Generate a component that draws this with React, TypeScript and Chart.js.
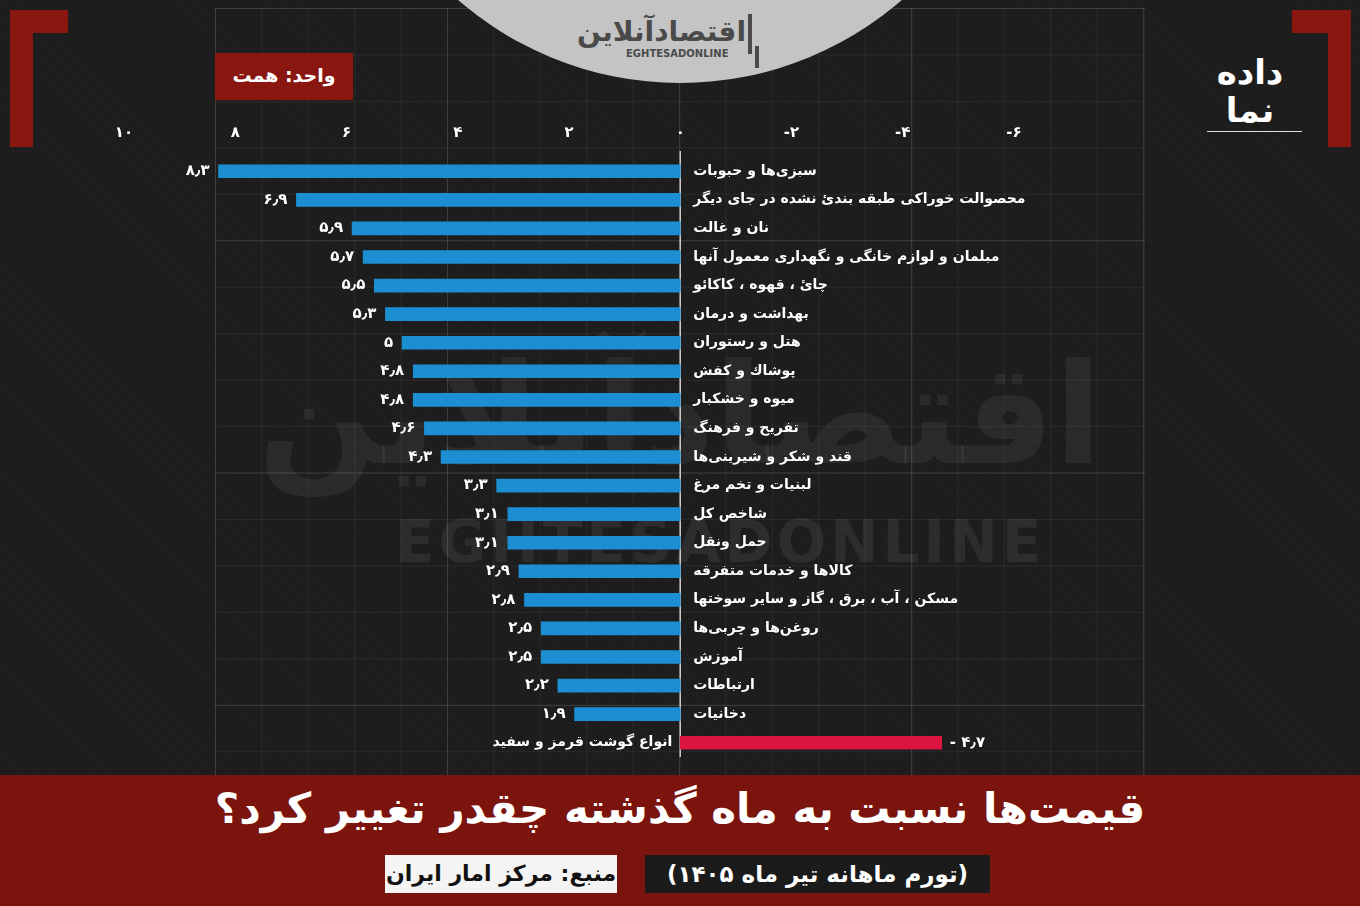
import React, { useEffect, useRef } from "react";
import { Chart, registerables } from "chart.js";

Chart.register(...registerables);

// ---------- DATA ----------
const categories: string[] = [
  "سبزی‌ها و حبوبات",
  "محصوالت خوراکی طبقه بندیٔ نشده در جای دیگر",
  "نان و غالت",
  "مبلمان و لوازم خانگی و نگهداری معمول آنها",
  "چایٔ ، قهوه ، کاکائو",
  "بهداشت و درمان",
  "هتل و رستوران",
  "پوشاك و كفش",
  "میوه و خشکبار",
  "تفریح و فرهنگ",
  "قند و شکر و شیرینی‌ها",
  "لبنیات و تخم مرغ",
  "شاخص کل",
  "حمل ونقل",
  "کالاها و خدمات متفرقه",
  "مسکن ، آب ، برق ، گاز و سایر سوختها",
  "روغن‌ها و چربی‌ها",
  "آموزش",
  "ارتباطات",
  "دخانیات",
  "انواع گوشت قرمز و سفید",
];

const values: number[] = [
  8.3, 6.9, 5.9, 5.7, 5.5, 5.3, 5, 4.8, 4.8, 4.6, 4.3, 3.3, 3.1, 3.1, 2.9, 2.8,
  2.5, 2.5, 2.2, 1.9, -4.7,
];

const xMin = -6;
const xMax = 10;
const xStep = 2;

const unitLabel = "واحد: همت";
const titleText = "قیمت‌ها نسبت به ماه گذشته چقدر تغییر کرد؟";
const subtitleText = "(تورم ماهانه تیر ماه ۱۴۰۵)";
const sourceText = "منبع: مرکز امار ایران";

// ---------- STYLE ----------
const POS_COLOR = "#1b8fd2";
const NEG_COLOR = "#dc1440";
const RED = "#8a170f";
const FONT = "'DejaVu Sans', sans-serif";

const faDigits = "۰۱۲۳۴۵۶۷۸۹";
const toFa = (n: number): string => {
  const s = String(Math.abs(n))
    .replace(".", "٫")
    .replace(/\d/g, (d) => faDigits[Number(d)]);
  return (n < 0 ? "-" : "") + s;
};

const labelPlugin = {
  id: "barLabels",
  beforeDatasetsDraw(chart: any) {
    const ctx = chart.ctx;
    const x0 = chart.scales.x.getPixelForValue(0);
    ctx.save();
    ctx.strokeStyle = "#c8c8c8";
    ctx.lineWidth = 1.5;
    ctx.beginPath();
    ctx.moveTo(x0, chart.chartArea.top - 6);
    ctx.lineTo(x0, chart.chartArea.bottom);
    ctx.stroke();
    ctx.restore();
  },
  afterDatasetsDraw(chart: any) {
    const ctx = chart.ctx;
    const meta = chart.getDatasetMeta(0);
    const x0 = chart.scales.x.getPixelForValue(0);
    ctx.save();
    ctx.fillStyle = "#ffffff";
    ctx.textBaseline = "middle";
    meta.data.forEach((bar: any, i: number) => {
      const v = values[i];
      const y = bar.y;
      ctx.font = `bold 14px ${FONT}`;
      (ctx as any).direction = "rtl";
      if (v >= 0) {
        ctx.textAlign = "left";
        ctx.fillText(categories[i], x0 + 13, y);
      } else {
        ctx.textAlign = "right";
        ctx.fillText(categories[i], x0 - 8, y);
      }
      (ctx as any).direction = "ltr";
      ctx.font = `bold 15px ${FONT}`;
      if (v >= 0) {
        ctx.textAlign = "right";
        ctx.fillText(toFa(v), bar.x - 9, y);
      } else {
        ctx.textAlign = "left";
        ctx.fillText("- " + toFa(-v), bar.x + 8, y);
      }
    });
    ctx.restore();
  },
};

export default function App() {
  const canvasRef = useRef<HTMLCanvasElement | null>(null);

  useEffect(() => {
    if (!canvasRef.current) return;
    const chart = new Chart(canvasRef.current, {
      type: "bar",
      data: {
        labels: categories,
        datasets: [
          {
            data: values,
            backgroundColor: values.map((v) => (v >= 0 ? POS_COLOR : NEG_COLOR)),
            borderWidth: 0,
            barThickness: 13,
          },
        ],
      },
      options: {
        indexAxis: "y",
        animation: false,
        responsive: false,
        devicePixelRatio: 1,
        layout: { padding: { left: 124, right: 346, top: 109, bottom: 149 } },
        plugins: { legend: { display: false }, tooltip: { enabled: false } },
        scales: {
          x: {
            type: "linear",
            min: xMin,
            max: xMax,
            reverse: true,
            position: "top",
            grid: { display: false, drawTicks: false },
            border: { display: false },
            ticks: {
              stepSize: xStep,
              padding: 15,
              color: "#ffffff",
              font: { family: FONT, size: 15, weight: "bold" },
              callback: (v: any) => toFa(Number(v)),
            },
            afterFit: (s: any) => {
              s.height = 48;
            },
          },
          y: {
            type: "category",
            display: false,
            offset: true,
            grid: { display: false },
          },
        },
      },
      plugins: [labelPlugin],
    } as any);
    return () => chart.destroy();
  }, []);

  const abs = (o: React.CSSProperties): React.CSSProperties => ({ position: "absolute", ...o });

  return (
    <div
      style={abs({
        left: 0,
        top: 0,
        width: 1360,
        height: 906,
        overflow: "hidden",
        backgroundColor: "#1c1c1c",
        backgroundImage:
          "repeating-linear-gradient(45deg, rgba(255,255,255,0.018) 0px, rgba(255,255,255,0.018) 1px, transparent 1px, transparent 3px)",
      })}
    >
      {/* blueprint grid */}
      <div
        style={abs({
          left: 215,
          top: 8,
          width: 930,
          height: 767,
          backgroundImage: [
            "linear-gradient(to right, rgba(255,255,255,0.1) 1px, transparent 1px)",
            "linear-gradient(to bottom, rgba(255,255,255,0.1) 1px, transparent 1px)",
            "linear-gradient(to right, rgba(255,255,255,0.055) 1px, transparent 1px)",
            "linear-gradient(to bottom, rgba(255,255,255,0.055) 1px, transparent 1px)",
          ].join(","),
          backgroundSize: "232.1px 100%, 100% 232.3px, 46.42px 100%, 100% 46.46px",
        })}
      />
      {/* watermark */}
      <div
        dir="rtl"
        style={abs({
          left: 250,
          top: 305,
          width: 860,
          textAlign: "center",
          fontFamily: FONT,
          fontWeight: "bold",
          fontSize: 140,
          lineHeight: "220px",
          color: "rgba(255,255,255,0.06)",
          whiteSpace: "nowrap",
        })}
      >
        اقتصادآنلاین
      </div>
      <div
        style={abs({
          left: 395,
          top: 510,
          fontFamily: FONT,
          fontWeight: "bold",
          fontSize: 58,
          letterSpacing: 4,
          lineHeight: "64px",
          color: "rgba(255,255,255,0.07)",
          whiteSpace: "nowrap",
        })}
      >
        EGHTESADONLINE
      </div>

      {/* top circle logo */}
      <div
        style={abs({
          left: 342,
          top: -593,
          width: 676,
          height: 676,
          borderRadius: "50%",
          background: "#c4c4c4",
        })}
      />
      <div
        dir="rtl"
        style={abs({
          left: 596,
          top: 14,
          width: 150,
          textAlign: "center",
          fontFamily: FONT,
          fontWeight: "bold",
          fontSize: 28,
          lineHeight: "36px",
          color: "#4a4a4a",
          whiteSpace: "nowrap",
        })}
      >
        اقتصادآنلاین
      </div>
      <div
        style={abs({
          left: 626,
          top: 48,
          fontFamily: FONT,
          fontWeight: "bold",
          fontSize: 10,
          lineHeight: "12px",
          color: "#4a4a4a",
          whiteSpace: "nowrap",
        })}
      >
        EGHTESADONLINE
      </div>
      <div style={abs({ left: 748, top: 14, width: 4, height: 40, background: "#4a4a4a" })} />
      <div style={abs({ left: 755, top: 46, width: 4, height: 22, background: "#4a4a4a" })} />

      {/* corner brackets */}
      <div style={abs({ left: 10, top: 10, width: 58, height: 23, background: RED })} />
      <div style={abs({ left: 10, top: 10, width: 23, height: 137, background: RED })} />
      <div style={abs({ left: 1292, top: 10, width: 59, height: 23, background: RED })} />
      <div style={abs({ left: 1328, top: 10, width: 23, height: 137, background: RED })} />

      {/* right logo */}
      <div
        dir="rtl"
        style={abs({
          left: 1200,
          top: 52,
          width: 100,
          textAlign: "center",
          fontFamily: FONT,
          fontWeight: "bold",
          fontSize: 34,
          lineHeight: "40px",
          color: "#ffffff",
        })}
      >
        داده
      </div>
      <div
        dir="rtl"
        style={abs({
          left: 1200,
          top: 90,
          width: 100,
          textAlign: "center",
          fontFamily: FONT,
          fontWeight: "bold",
          fontSize: 34,
          lineHeight: "40px",
          color: "#ffffff",
        })}
      >
        نما
      </div>
      <div style={abs({ left: 1207, top: 131, width: 95, height: 1, background: "#dddddd" })} />

      {/* unit box */}
      <div
        dir="rtl"
        style={abs({
          left: 215,
          top: 53,
          width: 138,
          height: 47,
          background: RED,
          color: "#ffffff",
          fontFamily: FONT,
          fontWeight: "bold",
          fontSize: 19,
          lineHeight: "45px",
          textAlign: "center",
        })}
      >
        {unitLabel}
      </div>

      {/* chart */}
      <canvas
        ref={canvasRef}
        width={1360}
        height={906}
        style={abs({ left: 0, top: 0, width: 1360, height: 906 })}
      />

      {/* bottom banner */}
      <div style={abs({ left: 0, top: 775, width: 1360, height: 131, background: "#7b140d" })} />
      <div
        dir="rtl"
        style={abs({
          left: 0,
          top: 782,
          width: 1360,
          textAlign: "center",
          fontFamily: FONT,
          fontWeight: "bold",
          fontSize: 42,
          lineHeight: "54px",
          color: "#ffffff",
          whiteSpace: "nowrap",
        })}
      >
        {titleText}
      </div>
      <div
        dir="rtl"
        style={abs({
          left: 645,
          top: 855,
          width: 345,
          height: 38,
          background: "#1b1b1b",
          color: "#ffffff",
          fontFamily: FONT,
          fontWeight: "bold",
          fontSize: 23,
          lineHeight: "38px",
          textAlign: "center",
          whiteSpace: "nowrap",
        })}
      >
        {subtitleText}
      </div>
      <div
        dir="rtl"
        style={abs({
          left: 385,
          top: 855,
          width: 232,
          height: 38,
          background: "#f4f4f4",
          color: "#111111",
          fontFamily: FONT,
          fontWeight: "bold",
          fontSize: 22,
          lineHeight: "38px",
          textAlign: "center",
          whiteSpace: "nowrap",
        })}
      >
        {sourceText}
      </div>
    </div>
  );
}
